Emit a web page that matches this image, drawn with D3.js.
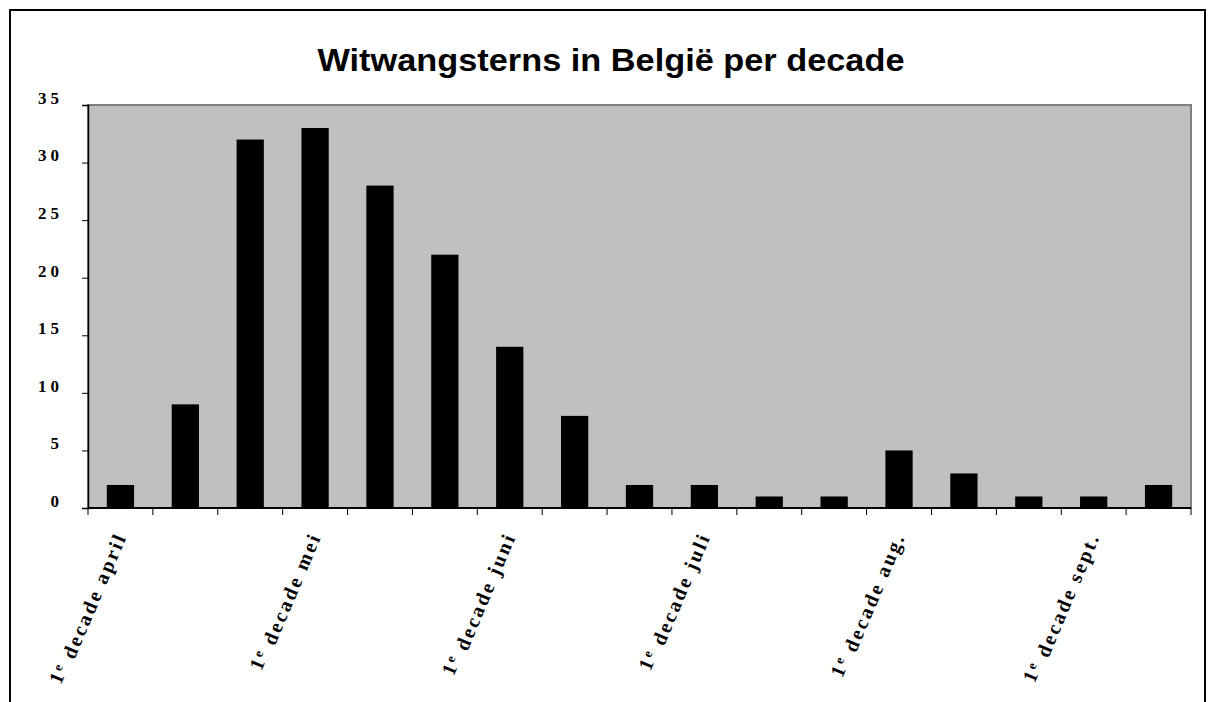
<!DOCTYPE html>
<html>
<head>
<meta charset="utf-8">
<script src="https://cdn.jsdelivr.net/npm/d3@7"></script>
<style>
  body { margin: 0; background: #fff; }
  #figure { width: 1211px; height: 702px; }
</style>
</head>
<body>
<div id="figure"></div>
<script>
const months = ["april", "mei", "juni", "juli", "aug.", "sept."];
const ordinals = ["1", "2", "3"];
// 17 decades: 1e april .. 2e sept.
const categories = [];
months.forEach(m => ordinals.forEach(o => categories.push(o + "e decade " + m)));
categories.length = 17;
const counts = [2, 9, 32, 33, 28, 22, 14, 8, 2, 2, 1, 1, 5, 3, 1, 1, 2];
const yTicks = [0, 5, 10, 15, 20, 25, 30, 35];
const labelEvery = 3;

document.addEventListener("DOMContentLoaded", ()=>{
  const margin = { top: 105, left: 88, right: 20, bottom: 194 },
        plotW = 1191 - margin.left,
        plotH = 508 - margin.top;

  const svg = d3.select("#figure").append("svg")
                .attr("width", 1211)
                .attr("height", 702);

  // outer frame
  svg.append("rect")
     .attr("x", 10).attr("y", 10)
     .attr("width", 1195).attr("height", 720)
     .attr("fill", "#fff")
     .attr("stroke", "#000")
     .attr("stroke-width", 2);

  svg.append("text")
     .attr("x", 611).attr("y", 71)
     .attr("text-anchor", "middle")
     .attr("textLength", 587)
     .attr("lengthAdjust", "spacingAndGlyphs")
     .style("font-family", "'Liberation Sans', Arial, sans-serif")
     .style("font-weight", "bold")
     .style("font-size", "32px")
     .text("Witwangsterns in België per decade");

  const g = svg.append("g")
               .attr("transform", "translate(" + margin.left + "," + margin.top + ")");

  let x_scale = d3.scaleBand()
                  .domain(categories)
                  .range([0, plotW])
                  .paddingInner(0.58)
                  .paddingOuter(0.29);

  let y_scale = d3.scaleLinear()
                  .domain([0, 35])
                  .range([plotH, 0]);

  g.append("rect")
   .attr("width", plotW).attr("height", plotH)
   .attr("fill", "#c0c0c0")
   .attr("stroke", "#808080")
   .attr("stroke-width", 2);

  g.selectAll(".bar")
   .data(counts)
   .enter().append("rect")
   .attr("class", "bar")
   .attr("x", (d, i) => x_scale(categories[i]))
   .attr("y", d => y_scale(d))
   .attr("width", x_scale.bandwidth())
   .attr("height", d => plotH - y_scale(d))
   .attr("fill", "#000");

  // y axis
  const yAxis = g.append("g")
     .call(d3.axisLeft(y_scale).tickValues(yTicks).tickSize(6).tickPadding(19));
  yAxis.select(".domain").attr("stroke", "#000").attr("stroke-width", 1.5);
  yAxis.selectAll("text")
       .style("font-family", "'Liberation Serif', 'Times New Roman', serif")
       .style("font-weight", "bold")
       .style("font-size", "17px")
       .style("letter-spacing", "4px")
       .attr("dy", "-0.1em");

  // x axis: ticks at band boundaries
  const bounds = d3.range(categories.length + 1).map(i => i * plotW / categories.length);
  g.append("line")
   .attr("x1", 0).attr("x2", plotW)
   .attr("y1", plotH).attr("y2", plotH)
   .attr("stroke", "#000").attr("stroke-width", 2);
  g.selectAll(".xtick")
   .data(bounds)
   .enter().append("line")
   .attr("class", "xtick")
   .attr("x1", d => d).attr("x2", d => d)
   .attr("y1", plotH).attr("y2", plotH + 7)
   .attr("stroke", "#000");

  const labelled = categories.map((c, i) => ({ c, i })).filter(d => d.i % labelEvery === 0);
  const lab = g.selectAll(".xlab")
   .data(labelled)
   .enter().append("text")
   .attr("class", "xlab")
   .attr("text-anchor", "end")
   .attr("transform", d => "translate(" + (x_scale(d.c) + x_scale.bandwidth() / 2 + 4) + "," + (plotH + 27) + ") rotate(-67)")
   .style("font-family", "'Liberation Serif', 'Times New Roman', serif")
   .style("font-weight", "bold")
   .style("font-size", "20px")
   .style("letter-spacing", "2.5px");
  lab.append("tspan").text(d => d.c.split("e ")[0]);
  lab.append("tspan").attr("dy", "-0.4em").style("font-size", "13px").text("e");
  lab.append("tspan").attr("dy", "0.4em").text(d => " " + d.c.slice(d.c.indexOf("decade")));
});
</script>
</body>
</html>
